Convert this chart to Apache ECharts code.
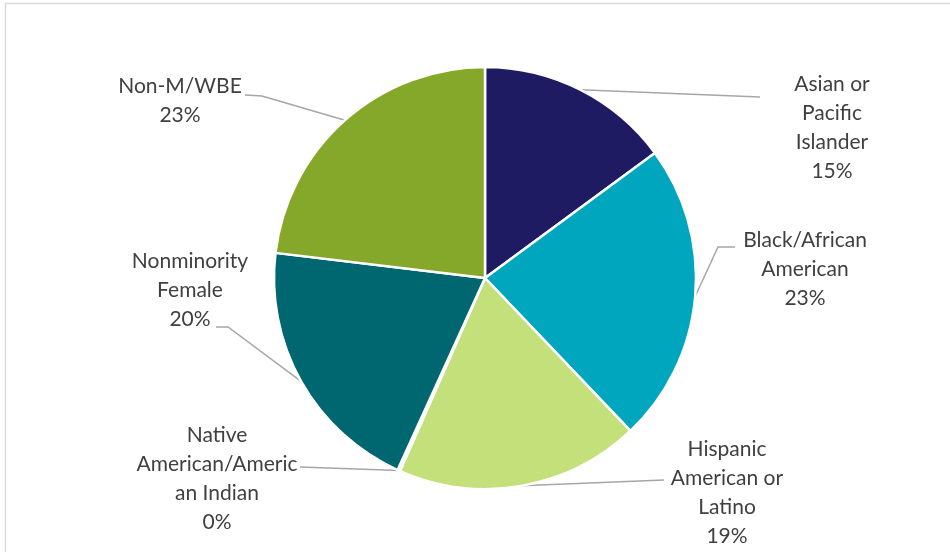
<!DOCTYPE html>
<html>
<head>
<meta charset="utf-8">
<script src="https://cdn.jsdelivr.net/npm/echarts@6/dist/echarts.min.js"></script>
<style>
html,body{margin:0;padding:0;background:#fff;}
#chart{width:950px;height:552px;}
</style>
</head>
<body>
<div id="chart"></div>
<script>
const categories = ['Asian or Pacific Islander', 'Black/African American', 'Hispanic American or Latino', 'Native American/American Indian', 'Nonminority Female', 'Non-M/WBE'];
const labelTexts = ['Asian or\nPacific\nIslander', 'Black/African\nAmerican', 'Hispanic\nAmerican or\nLatino', 'Native\nAmerican/Americ\nan Indian', 'Nonminority\nFemale', 'Non-M/WBE'];
const values = [14.9, 23.0, 18.7, 0.2, 20.1, 23.1];
const colors = ['#1e1b63', '#00a6bd', '#c4e07b', '#5b9bd5', '#006670', '#85a82a'];
const labelPos = [[832, 128], [805, 269], [727, 493], [217, 479], [190, 290], [180, 101]];
// leader line bend/end points (label side)
const leaderEnds = [
  [[760, 97]],
  [[718, 247], [735, 247]],
  [[664, 480]],
  [[300, 467]],
  [[228, 327], [216, 327]],
  [[262, 96], [245, 95]]
];

const chart = echarts.init(document.getElementById('chart'));
chart.setOption({
  animation: false,
  graphic: [{
    type: 'rect',
    shape: {x: 5.5, y: 3.5, width: 1000, height: 700},
    style: {fill: 'none', stroke: '#d9d9d9', lineWidth: 1.5},
    silent: true
  }],
  series: [{
    type: 'pie',
    center: [485, 278],
    radius: 211,
    startAngle: 90,
    clockwise: true,
    avoidLabelOverlap: false,
    data: categories.map((c, i) => ({name: c, value: values[i], itemStyle: {color: colors[i]}})),
    itemStyle: {borderColor: '#fff', borderWidth: 2.5},
    label: {
      show: true,
      formatter: p => labelTexts[p.dataIndex] + '\n' + Math.round(p.percent) + '%',
      fontFamily: 'Lato',
      fontSize: 21,
      lineHeight: 29,
      color: '#404040',
      align: 'center'
    },
    labelLine: {
      show: true,
      length: 15,
      length2: 10,
      lineStyle: {color: '#a6a6a6', width: 1.5}
    },
    labelLayout: params => {
      const i = params.dataIndex;
      const p = labelPos[i];
      const out = {x: p[0], y: p[1], align: 'center', verticalAlign: 'middle'};
      if (params.labelLinePoints && params.labelLinePoints.length) {
        const start = params.labelLinePoints[0];
        const pts = [start].concat(leaderEnds[i]);
        while (pts.length < 3) pts.push(pts[pts.length - 1]);
        out.labelLinePoints = pts;
      }
      return out;
    }
  }]
});
</script>
</body>
</html>
